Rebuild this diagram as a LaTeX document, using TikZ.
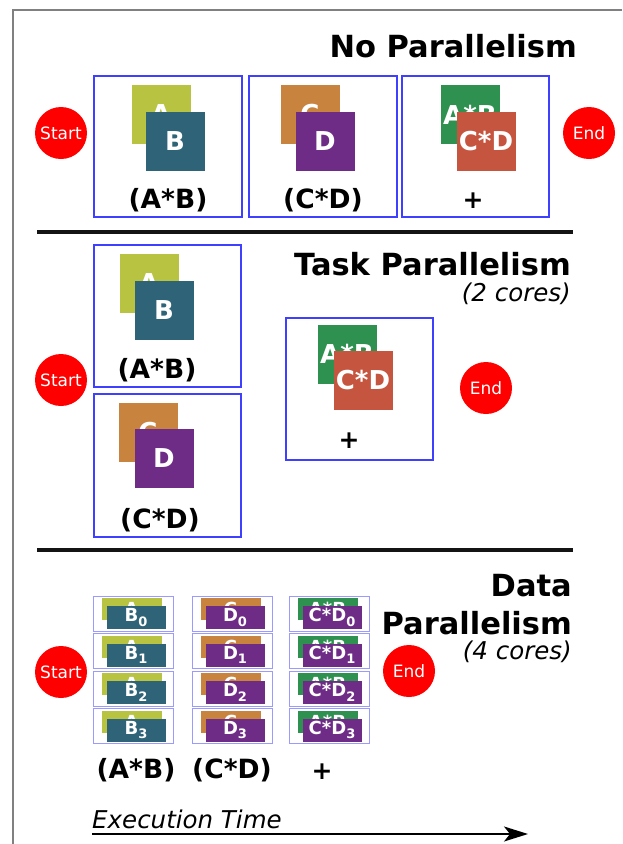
\documentclass[tikz,border=0pt]{standalone}
\usepackage{fontspec}
\setmainfont{DejaVu Sans}[BoldFont={DejaVu Sans Bold},ItalicFont={DejaVu Sans Oblique},BoldItalicFont={DejaVu Sans Bold Oblique}]
\usetikzlibrary{arrows.meta}
\definecolor{cA}{HTML}{B7C341}
\definecolor{cB}{HTML}{2E6378}
\definecolor{cC}{HTML}{C8843F}
\definecolor{cD}{HTML}{6E2C86}
\definecolor{cAB}{HTML}{2E9150}
\definecolor{cCD}{HTML}{C5553F}
\definecolor{boxblue}{HTML}{3F3FFF}
\definecolor{lightblue}{HTML}{9A9AFF}
\definecolor{framegray}{HTML}{808080}
\newcommand\mysub[1]{\raisebox{-0.45ex}{\fontsize{13}{14}\selectfont #1}}
\begin{document}
\begin{tikzpicture}[x=1pt,y=-1pt,
  bigsq/.style={minimum width=59pt,minimum height=59pt,inner sep=0pt,text=white,font=\bfseries\fontsize{26}{28}\selectfont},
  smback/.style={minimum width=60pt,minimum height=22pt,inner sep=0pt,text=white,font=\bfseries\fontsize{18}{20}\selectfont},
  smfront/.style={minimum width=59pt,minimum height=23pt,inner sep=0pt,text=white,font=\bfseries\fontsize{18}{20}\selectfont},
  startend/.style={circle,fill=red,minimum size=52pt,inner sep=0pt,text=white,font=\fontsize{17}{19}\selectfont},
  pbox/.style={draw=boxblue,line width=1.5pt,inner sep=0pt},
  dbox/.style={draw=lightblue,line width=1pt,inner sep=0pt,minimum width=80pt,minimum height=35pt},
  lbl/.style={anchor=base,inner sep=0pt,font=\bfseries\fontsize{26.5}{28}\selectfont},
  plussign/.style={inner sep=0pt,font=\bfseries\fontsize{25}{27}\selectfont},
  titletext/.style={anchor=base east,inner sep=0pt,font=\bfseries\fontsize{30.5}{32}\selectfont},
  subtitle/.style={anchor=base east,inner sep=0pt,font=\itshape\fontsize{24.5}{26}\selectfont},
  sepline/.style={line width=3.5pt,black!92}
]
\useasboundingbox (0,0) rectangle (622,844);
% frame
\draw[framegray,line width=2pt] (13,844) -- (13,9.5) -- (622,9.5);

% ---------- No Parallelism ----------
\node[titletext] (t1) at (577,57) {No Parallelism};
\node[startend] (s1) at (61,133) {Start};
\node[startend] (e1) at (589,133) {End};
\node[pbox,minimum width=148pt,minimum height=141pt] (nb1) at (168,146.5) {};
\node[pbox,minimum width=148pt,minimum height=141pt] (nb2) at (323,146.5) {};
\node[pbox,minimum width=147pt,minimum height=141pt] (nb3) at (475.5,146.5) {};
\node[bigsq,fill=cA] (na) at (161,114.5) {A};
\node[bigsq,fill=cB] (nb) at (175,141.5) {B};
\node[lbl] (nl1) at (168,208) {(A*B)};
\node[bigsq,fill=cC] (nc) at (310,114.5) {C};
\node[bigsq,fill=cD] (nd) at (325,141.5) {D};
\node[lbl] (nl2) at (323,208) {(C*D)};
\node[bigsq,fill=cAB] (nab) at (470,114.5) {A*B};
\node[bigsq,fill=cCD] (ncd) at (486,141.5) {C*D};
\node[plussign] (np) at (473,201) {+};

\draw[sepline] (37,232) -- (573,232);

% ---------- Task Parallelism ----------
\node[titletext] (t2) at (571,275) {Task Parallelism};
\node[subtitle] (t2s) at (571,301) {(2 cores)};
\node[startend] (s2) at (61,380) {Start};
\node[startend] (e2) at (486,388) {End};
\node[pbox,minimum width=147pt,minimum height=142pt] (tb1) at (167.5,316) {};
\node[bigsq,fill=cA] (ta) at (149,283.5) {A};
\node[bigsq,fill=cB] (tb) at (164,310) {B};
\node[lbl] (tl1) at (157,378) {(A*B)};
\node[pbox,minimum width=147pt,minimum height=143pt] (tb2) at (167.5,465.5) {};
\node[bigsq,fill=cC] (tc) at (148,432) {C};
\node[bigsq,fill=cD] (td) at (164,458.5) {D};
\node[lbl] (tl2) at (160,528) {(C*D)};
\node[pbox,minimum width=147pt,minimum height=142pt] (tb3) at (359.5,389) {};
\node[bigsq,fill=cAB] (tab) at (347,354) {A*B};
\node[bigsq,fill=cCD] (tcd) at (363,380.5) {C*D};
\node[plussign] (tp) at (349,441) {+};

\draw[sepline] (37,550) -- (573,550);

% ---------- Data Parallelism ----------
\node[titletext] (t3a) at (572,596) {Data};
\node[titletext] (t3b) at (572,634) {Parallelism};
\node[subtitle] (t3s) at (572,659) {(4 cores)};
\node[startend] (s3) at (61,672) {Start};
\node[startend] (e3) at (409,671) {End};
\foreach \i in {0,1,2,3} {
  \pgfmathsetmacro\tt{596+37.5*\i}
  % column 1
  \node[dbox] (da\i) at (133.5,{\tt+17.5}) {};
  \node[smback,fill=cA] (dA\i) at (131.5,{\tt+13}) {A};
  \node[smfront,fill=cB] (dB\i) at (136,{\tt+21.5}) {B\mysub{\i}};
  % column 2
  \node[dbox] (dc\i) at (232.5,{\tt+17.5}) {};
  \node[smback,fill=cC] (dC\i) at (230.5,{\tt+13}) {C};
  \node[smfront,fill=cD] (dD\i) at (235,{\tt+21.5}) {D\mysub{\i}};
  % column 3
  \node[dbox] (de\i) at (329.5,{\tt+17.5}) {};
  \node[smback,fill=cAB] (dAB\i) at (327.5,{\tt+13}) {A*B};
  \node[smfront,fill=cD] (dCD\i) at (332,{\tt+21.5}) {C*D\mysub{\i}};
}
\node[lbl] (dl1) at (136,778) {(A*B)};
\node[lbl] (dl2) at (232,778) {(C*D)};
\node[plussign] (dp) at (322,772) {+};

% ---------- Execution time ----------
\node[anchor=base west,inner sep=0pt,font=\itshape\fontsize{24.5}{26}\selectfont] (et) at (92,828) {Execution Time};
\coordinate (ts) at (92,834);
\coordinate (te) at (528,834);
\draw[line width=1.8pt,-{Stealth[length=24pt,width=15pt,inset=6pt]}] (ts) -- (te);
\end{tikzpicture}
\end{document}
